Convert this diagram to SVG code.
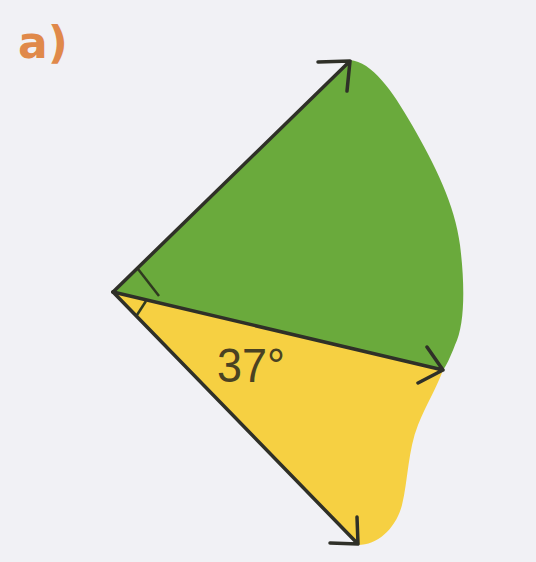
<svg xmlns="http://www.w3.org/2000/svg" width="536" height="562" viewBox="0 0 536 562">
<defs>
<style>
.ray{stroke:#2f3028;stroke-width:3.5;fill:none;stroke-linecap:round;stroke-linejoin:round}
.mark{stroke:#2f3a20;stroke-width:2.5;fill:none}
</style>
</defs>
<rect width="536" height="562" fill="#f1f1f5"/>
<text x="18" y="58" font-family="'DejaVu Sans', sans-serif" font-weight="bold" font-size="44" fill="#e0894a">a)</text>
<g id="green">
<path d="M113,292 L350,60 C372,62 392,90 412,125 C435,165 455,205 460,245 C465,285 465,325 455,345 C450,358 446,366 443,370 Z" fill="#6aaa3c"/>
</g>
<g id="yellow">
<path d="M113,292 L443,370 C438,385 426,405 418,425 C408,450 408,480 402,505 C396,528 378,545 358,545 Z" fill="#f6d042"/>
</g>
<g id="marks">
<path class="mark" d="M138,269 L159,296"/>
<path class="mark" d="M146,301 L137,315"/>
</g>
<g id="connectors">
<path class="ray" d="M113,292 L350,61 M318,62 L350,61 L347,91"/>
<path class="ray" d="M113,292 L443,370 M427,347 L443,370 L418,383"/>
<path class="ray" d="M113,292 L358,544 M357,517 L358,544 L330,543"/>
</g>
<text x="217" y="382" font-family="'Liberation Sans', sans-serif" font-size="48" fill="#4a4222" textLength="68" lengthAdjust="spacingAndGlyphs">37°</text>
</svg>
